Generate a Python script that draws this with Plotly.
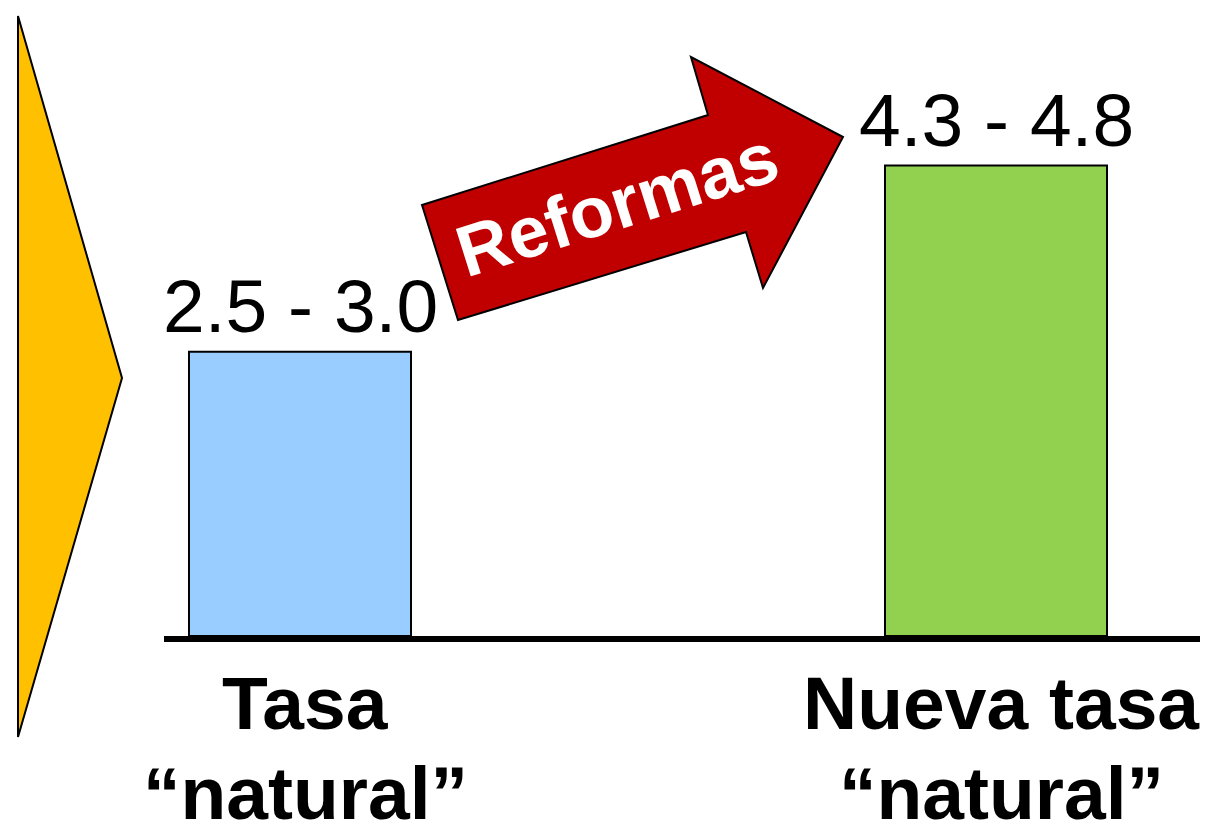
import plotly.graph_objects as go

# Datos
categorias = ["Tasa", "Nueva tasa"]
subtitulos = ["\u201cnatural\u201d", "\u201cnatural\u201d"]
valores = [2.75, 4.55]
rangos = ["2.5 - 3.0", "4.3 - 4.8"]
colores = ["#99CCFF", "#92D050"]

# La pagina tiene 8 px de margen en el body
OFF = 8
W, H = 1213 - OFF, 823 - OFF
FUENTE = "Liberation Sans, Arial, sans-serif"


def px(x, y):
    """Convierte pixeles de pantalla a coordenadas paper."""
    return (x - OFF) / W, 1 - (y - OFF) / H


def ruta(puntos):
    partes = []
    for i, (x, y) in enumerate(puntos):
        xp, yp = px(x, y)
        partes.append(("M" if i == 0 else "L") + f"{xp:.5f},{yp:.5f}")
    return " ".join(partes) + " Z"


fig = go.Figure()
fig.add_trace(go.Bar(
    x=list(range(len(categorias))),
    y=valores,
    width=0.319,
    marker=dict(color=colores, line=dict(color="black", width=2)),
    cliponaxis=False,
))

# Rangos encima de cada barra
for i, (v, r) in enumerate(zip(valores, rangos)):
    fig.add_annotation(
        text=r, x=i, y=v, xref="x", yref="y",
        xanchor="center", yanchor="bottom", yshift=2,
        showarrow=False,
        font=dict(size=75, color="black", family=FUENTE),
    )

# Triangulo amarillo a la izquierda
fig.add_shape(
    type="path", xref="paper", yref="paper",
    path=ruta([(18, 16), (122, 378), (18, 737)]),
    fillcolor="#FFC000", line=dict(color="black", width=2),
)

# Flecha roja "Reformas"
fig.add_shape(
    type="path", xref="paper", yref="paper",
    path=ruta([(422, 205), (708, 115), (691, 57), (843, 137),
               (763, 288), (746, 232), (458, 320)]),
    fillcolor="#C00000", line=dict(color="black", width=2),
)
xa, ya = px(617, 204)
fig.add_annotation(
    text="<b>Reformas</b>", xref="paper", yref="paper", x=xa, y=ya,
    xanchor="center", yanchor="middle",
    textangle=-17.5, showarrow=False,
    font=dict(size=72, color="white", family=FUENTE),
)

# Etiquetas de categoria (dos lineas)
for i, (cat, sub) in enumerate(zip(categorias, subtitulos)):
    for texto, yc in [(cat, 703), (sub, 793)]:
        fig.add_annotation(
            text=f"<b>{texto}</b>", x=i, xref="x", xshift=5,
            y=px(0, yc)[1], yref="paper",
            xanchor="center", yanchor="middle",
            showarrow=False,
            font=dict(size=75, color="black", family=FUENTE),
        )

fig.update_layout(
    width=W, height=H,
    paper_bgcolor="white", plot_bgcolor="white",
    margin=dict(l=0, r=0, t=0, b=0),
    showlegend=False,
    font=dict(family=FUENTE, color="black"),
    xaxis=dict(
        domain=[(164 - OFF) / W, (1200 - OFF) / W],
        range=[-0.1954, 1.2931],
        showgrid=False, zeroline=False,
        showticklabels=False, ticks="",
        showline=True, linecolor="black", linewidth=6,
    ),
    yaxis=dict(
        domain=[1 - (636 - OFF) / H, 1],
        range=[0, (636 - OFF) / 103.4],
        visible=False,
    ),
)

fig.write_html("out.html")
